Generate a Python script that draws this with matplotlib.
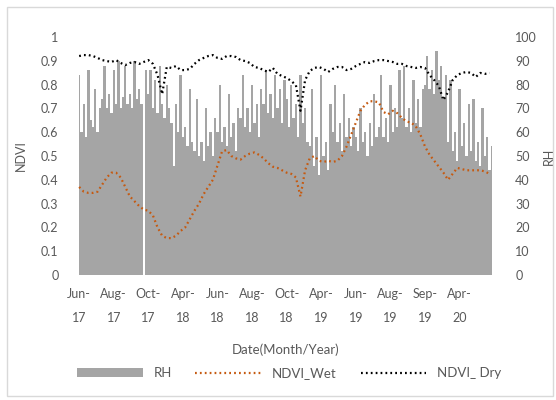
import matplotlib
matplotlib.use("Agg")
import matplotlib.pyplot as plt
from matplotlib.patches import Rectangle
import numpy as np

plt.rcParams['font.family'] = ['Lato', 'DejaVu Sans']

# relative humidity (%), one value per category step
rh = [84, 60, 72, 58, 86, 65, 62, 78, 60, 70,
      74, 88, 70, 76, 68, 86, 72, 90, 70, 75,
      88, 72, 76, 70, 90, 74, 78, 72, 0, 86,
      76, 86, 70, 82, 68, 88, 72, 66, 80, 70,
      64, 46, 72, 60, 84, 58, 62, 54, 78, 56,
      52, 74, 50, 56, 48, 70, 54, 60, 50, 66,
      60, 80, 56, 62, 54, 76, 58, 64, 52, 70,
      66, 84, 62, 70, 60, 80, 64, 72, 58, 78,
      72, 86, 68, 76, 66, 84, 70, 78, 64, 82,
      74, 62, 80, 66, 72, 58, 84, 64, 70, 56,
      54, 78, 46, 58, 42, 84, 50, 56, 44, 72,
      60, 80, 56, 64, 52, 76, 58, 66, 54, 62,
      58, 52, 70, 56, 60, 50, 64, 54, 76, 58,
      62, 84, 58, 66, 56, 80, 60, 70, 62, 86,
      66, 88, 62, 70, 60, 82, 64, 74, 62, 78,
      80, 92, 78, 86, 76, 94, 82, 88, 74, 84,
      56, 82, 52, 60, 48, 78, 54, 64, 50, 72,
      52, 74, 48, 56, 46, 70, 50, 58, 44, 54]

# NDVI, one value every second category
ndvi_wet = [0.37, 0.35, 0.345, 0.345, 0.35, 0.38, 0.41, 0.43, 0.43, 0.41,
            0.37, 0.33, 0.31, 0.29, 0.275, 0.27, 0.25, 0.2, 0.165, 0.155,
            0.155, 0.165, 0.185, 0.2, 0.235, 0.27, 0.30, 0.34, 0.37, 0.40,
            0.46, 0.52, 0.525, 0.50, 0.49, 0.485, 0.50, 0.51, 0.515, 0.505,
            0.49, 0.47, 0.455, 0.45, 0.44, 0.43, 0.425, 0.41, 0.33, 0.44,
            0.49, 0.50, 0.48, 0.475, 0.48, 0.475, 0.48, 0.50, 0.54, 0.59,
            0.64, 0.69, 0.715, 0.73, 0.73, 0.725, 0.685, 0.675, 0.69, 0.68,
            0.66, 0.645, 0.64, 0.625, 0.59, 0.54, 0.505, 0.48, 0.455, 0.43,
            0.40, 0.425, 0.45, 0.445, 0.44, 0.44, 0.44, 0.44, 0.435, 0.425]

ndvi_dry = [0.920, 0.924, 0.924, 0.920, 0.912, 0.903, 0.899, 0.895, 0.903, 0.891,
            0.882, 0.891, 0.895, 0.887, 0.895, 0.903, 0.887, 0.84, 0.76, 0.874,
            0.870, 0.878, 0.861, 0.861, 0.866, 0.887, 0.903, 0.912, 0.920, 0.924,
            0.912, 0.908, 0.920, 0.920, 0.916, 0.903, 0.899, 0.891, 0.874, 0.870,
            0.861, 0.853, 0.870, 0.845, 0.836, 0.828, 0.815, 0.798, 0.69, 0.819,
            0.857, 0.870, 0.874, 0.866, 0.853, 0.866, 0.874, 0.874, 0.861, 0.866,
            0.878, 0.887, 0.895, 0.891, 0.899, 0.903, 0.903, 0.899, 0.895, 0.887,
            0.887, 0.878, 0.874, 0.870, 0.874, 0.870, 0.840, 0.819, 0.794, 0.735,
            0.769, 0.819, 0.840, 0.849, 0.853, 0.849, 0.832, 0.849, 0.845, 0.849]

month_labels = ["Jun-\n17", "Aug-\n17", "Oct-\n17", "Apr-\n18", "Jun-\n18", "Aug-\n18",
                "Oct-\n18", "Apr-\n19", "Jun-\n19", "Aug-\n19", "Sep-\n19", "Apr-\n20"]

x_rh = np.arange(len(rh))
x_ndvi = np.arange(len(ndvi_wet)) * 2

fig = plt.figure(figsize=(5.56, 4.0), dpi=100)
ax = fig.add_axes([78/556, 1 - 275/400, 415/556, 238/400])
ax2 = ax.twinx()

ax2.fill_between(x_rh, rh, step='mid', color='#a5a5a5', lw=0, label='RH')
l1, = ax.plot(x_ndvi, ndvi_wet, color='#c55a11', lw=1.6, ls=(0, (0.8, 1.4)), label='NDVI_Wet')
l2, = ax.plot(x_ndvi, ndvi_dry, color='black', lw=1.6, ls=(0, (0.8, 1.4)), label='NDVI_ Dry')

ax.set_zorder(ax2.get_zorder() + 1)
ax.patch.set_visible(False)

ax.set_xlim(-0.5, len(rh) - 0.5)
ax.set_ylim(0, 1)
ax2.set_ylim(0, 100)
ax.set_yticks(np.arange(0, 1.01, 0.1))
ax.set_yticklabels(["0", "0.1", "0.2", "0.3", "0.4", "0.5", "0.6", "0.7", "0.8", "0.9", "1"])
ax2.set_yticks(np.arange(0, 101, 10))
ax.set_xticks(np.arange(0, len(rh), 15))
ax.set_xticklabels(month_labels, linespacing=2.3)

for a in (ax, ax2):
    for s in a.spines.values():
        s.set_visible(False)
    a.tick_params(length=0, labelsize=9, colors='#595959')
ax.tick_params(axis='y', pad=14)
ax2.tick_params(axis='y', pad=16)
ax.tick_params(axis='x', pad=9)

ax.set_ylabel("NDVI", fontsize=9, color='#595959', labelpad=10)
ax2.set_ylabel("RH", fontsize=9, color='#595959', labelpad=4)
ax.set_xlabel("Date(Month/Year)", fontsize=9.5, color='#595959', labelpad=14)

handles, labels = ax2.get_legend_handles_labels()
fig.legend(handles + [l1, l2], labels + ['NDVI_Wet', 'NDVI_ Dry'],
           loc='center', bbox_to_anchor=(0.52, 1 - 373/400), ncol=3, frameon=False,
           fontsize=9.5, handlelength=5, handleheight=0.6, columnspacing=1.8,
           labelcolor='#595959')

fig.patches.append(Rectangle((7/556, 4/400), 546/556, 389/400, transform=fig.transFigure,
                             fill=False, edgecolor='#d9d9d9', lw=1))

fig.savefig("out.png", dpi=100)
